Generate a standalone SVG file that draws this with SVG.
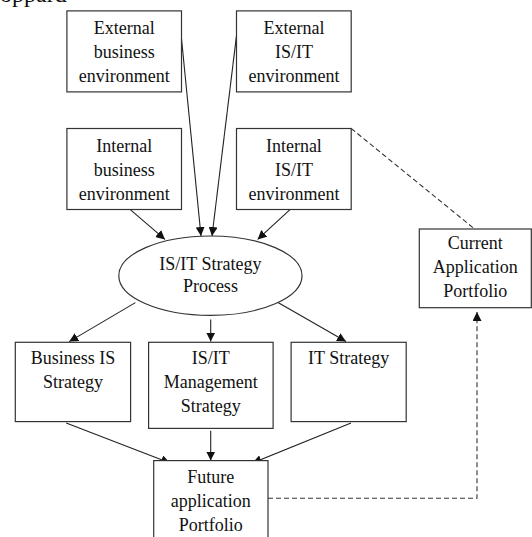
<svg xmlns="http://www.w3.org/2000/svg" width="532" height="537" viewBox="0 0 532 537">
<defs>
<style>
.box{fill:#fff;stroke:#333;stroke-width:1.2}
.t{font-family:"Liberation Serif","Times New Roman",serif;font-size:18px;fill:#111;text-anchor:middle}
.c{stroke:#222;stroke-width:1.1;fill:none}
.d{stroke:#333;stroke-width:1.1;fill:none;stroke-dasharray:5,3}
</style>
<marker id="ah" viewBox="0 0 10 10" refX="10" refY="5" markerWidth="9" markerHeight="9" markerUnits="userSpaceOnUse" orient="auto">
<path d="M0,0 L10,5 L0,10 z" fill="#111"/>
</marker>
</defs>
<rect width="532" height="537" fill="#fff"/>
<text x="0" y="2" style="font-family:'Liberation Serif',serif;font-size:24px;fill:#111">oppard</text>
<g id="connectors">
<line class="c" x1="181.5" y1="38.7" x2="201" y2="236" marker-end="url(#ah)"/>
<line class="c" x1="236.5" y1="35.6" x2="212" y2="236" marker-end="url(#ah)"/>
<line class="c" x1="130.3" y1="209.6" x2="165" y2="239.4" marker-end="url(#ah)"/>
<line class="c" x1="290" y1="209.6" x2="257.6" y2="239.4" marker-end="url(#ah)"/>
<line class="c" x1="135.4" y1="302.6" x2="69.2" y2="341.6" marker-end="url(#ah)"/>
<line class="c" x1="210.7" y1="319.6" x2="210.7" y2="341.6" marker-end="url(#ah)"/>
<line class="c" x1="278" y1="302.6" x2="346" y2="341.6" marker-end="url(#ah)"/>
<line class="c" x1="66.2" y1="422.9" x2="170" y2="463" marker-end="url(#ah)"/>
<line class="c" x1="210.7" y1="430.7" x2="210.7" y2="460.6" marker-end="url(#ah)"/>
<line class="c" x1="351" y1="422.9" x2="252.5" y2="463" marker-end="url(#ah)"/>
<line class="d" x1="351.2" y1="128.5" x2="473.4" y2="228"/>
<polyline class="d" points="268,498.3 477,498.3 477,312" marker-end="url(#ah)"/>
</g>
<g id="ext-business">
<rect class="box" x="66.9" y="10.9" width="114.6" height="81"/>
<text class="t" x="124.2" y="33.6">External</text>
<text class="t" x="124.2" y="58">business</text>
<text class="t" x="124.2" y="82.4">environment</text>
</g>
<g id="ext-isit">
<rect class="box" x="236.5" y="10.9" width="114.7" height="81"/>
<text class="t" x="293.9" y="33.6">External</text>
<text class="t" x="293.9" y="58">IS/IT</text>
<text class="t" x="293.9" y="82.4">environment</text>
</g>
<g id="int-business">
<rect class="box" x="66.9" y="128.5" width="114.6" height="81"/>
<text class="t" x="124.2" y="151.6">Internal</text>
<text class="t" x="124.2" y="175.6">business</text>
<text class="t" x="124.2" y="199.7">environment</text>
</g>
<g id="int-isit">
<rect class="box" x="236.5" y="128.5" width="114.7" height="81"/>
<text class="t" x="293.9" y="151.6">Internal</text>
<text class="t" x="293.9" y="175.6">IS/IT</text>
<text class="t" x="293.9" y="199.7">environment</text>
</g>
<g id="process">
<ellipse class="box" cx="210.4" cy="275.7" rx="91.6" ry="39.7"/>
<text class="t" x="210.4" y="269.7">IS/IT Strategy</text>
<text class="t" x="210.4" y="292.4">Process</text>
</g>
<g id="current">
<rect class="box" x="419.3" y="229" width="112" height="78.7"/>
<text class="t" x="475.3" y="249.3">Current</text>
<text class="t" x="475.3" y="273.3">Application</text>
<text class="t" x="475.3" y="297">Portfolio</text>
</g>
<g id="business-is">
<rect class="box" x="15.3" y="342.3" width="115.3" height="79.3"/>
<text class="t" x="73" y="363.7">Business IS</text>
<text class="t" x="73" y="388.2">Strategy</text>
</g>
<g id="isit-mgmt">
<rect class="box" x="148.6" y="342.3" width="124.5" height="86.1"/>
<text class="t" x="210.8" y="363.7">IS/IT</text>
<text class="t" x="210.8" y="388.2">Management</text>
<text class="t" x="210.8" y="412.1">Strategy</text>
</g>
<g id="it-strategy">
<rect class="box" x="291.1" y="342.3" width="115.1" height="79.3"/>
<text class="t" x="348.6" y="363.7">IT Strategy</text>
</g>
<g id="future">
<rect class="box" x="153.7" y="460.6" width="114.3" height="80"/>
<text class="t" x="210.8" y="483.3">Future</text>
<text class="t" x="210.8" y="507">application</text>
<text class="t" x="210.8" y="530.8">Portfolio</text>
</g>
</svg>
